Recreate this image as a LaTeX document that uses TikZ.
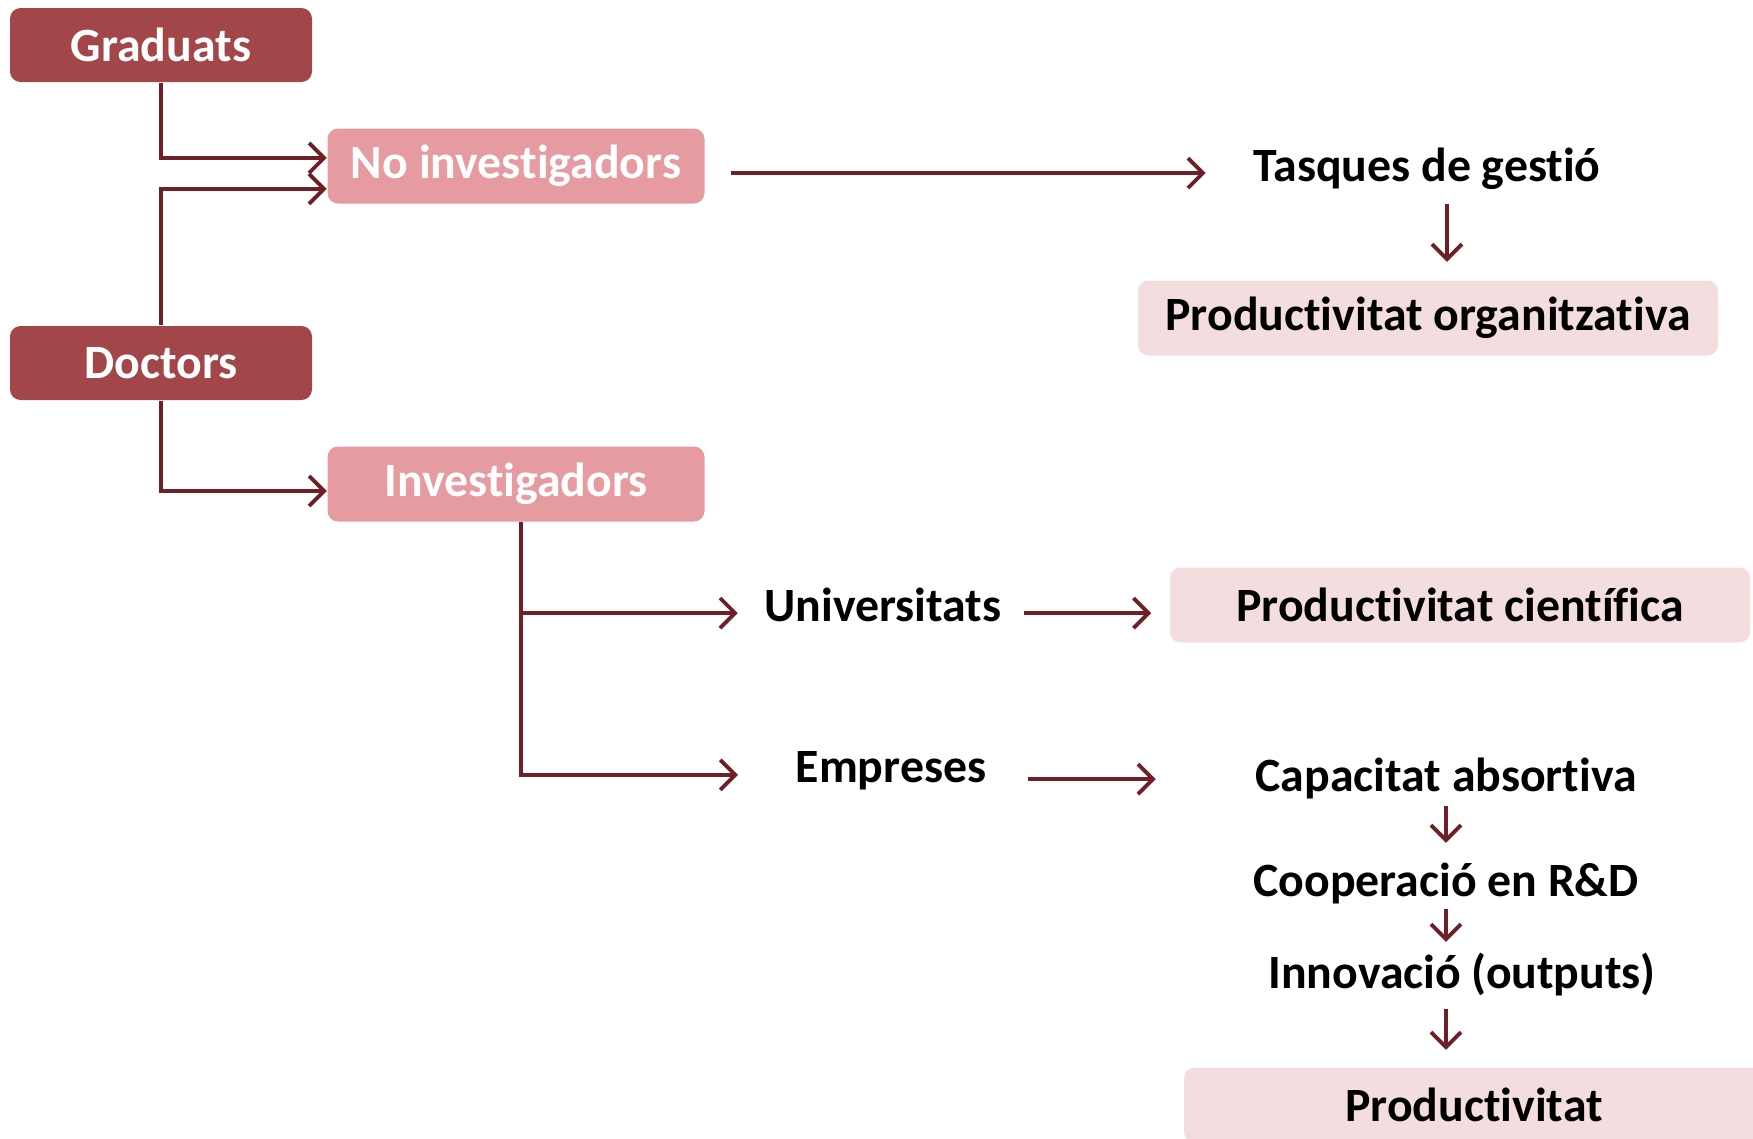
\documentclass[tikz,border=0pt]{standalone}
\usepackage{fontspec}
\setmainfont{Carlito}[Ligatures={NoCommon,NoRequired,NoContextual,NoRare},
  RawFeature={-liga;-clig;-calt;-dlig}]
\usetikzlibrary{arrows.meta}

\definecolor{granat}{RGB}{163,70,74}
\definecolor{rosa}{RGB}{230,155,160}
\definecolor{rosaclar}{RGB}{244,221,223}
\definecolor{fletxacol}{RGB}{110,32,38}

\tikzset{
  fosc/.style={fill=granat, text=white, rounded corners=3pt, inner sep=0pt,
    minimum width=30.2mm, minimum height=7.4mm},
  mitja/.style={fill=rosa, text=white, rounded corners=3pt, inner sep=0pt,
    minimum width=37.7mm, minimum height=7.5mm},
  clar/.style={fill=rosaclar, text=black, rounded corners=3pt, inner sep=0pt,
    minimum width=58mm, minimum height=7.5mm},
  txt/.style={text=black, inner sep=0pt},
  fletxa/.style={draw=fletxacol, line width=1.1pt,
    -{Straight Barb[length=1.5mm, width=3mm, line width=1.1pt]}}
}

\begin{document}
\begin{tikzpicture}[x=0.1mm, y=-0.1mm, font=\fontsize{13.6}{16}\selectfont\bfseries]
	\useasboundingbox (0,0) rectangle (1753,1138);

		% left column
		\node[fosc] (grad) at (161,45) {Graduats};
		\node[fosc] (doc) at (161,363) {Doctors};
		\node[mitja] (noinv) at (516,166) {No investigadors};
		\node[mitja] (inv) at (516,484) {Investigadors};

		% outcomes
		\node[txt] (tasq) at (1427,169) {Tasques de gestió};
		\node[clar] (porg) at (1428,318) {Productivitat organitzativa};
		\node[txt] (univ) at (883,605) {Universitats};
		\node[clar] (pcie) at (1460,605) {Productivitat científica};
		\node[txt] (emp) at (891,771) {Empreses};
		\node[txt] (capa) at (1446,778) {Capacitat absortiva};
		\node[txt] (coop) at (1446,883) {Cooperació en R\&D};
		\node[txt] (innov) at (1462,974) {Innovació (outputs)};
		\node[clar] (prod) at (1474,1105) {Productivitat};

		%% Arrows %%
		\draw[fletxa] (grad.south) |- ([yshift=2.3pt]noinv.west);
		\draw[fletxa] (doc.north) |- ([yshift=-6.5pt]noinv.west);
		\draw[fletxa] (doc.south) |- ([yshift=-2pt]inv.west);
		\draw[fletxa, shorten <=2.6mm, shorten >=4.7mm]
			([yshift=-2pt]noinv.east) -- ([yshift=-2pt]noinv.east -| tasq.west);
		\draw[fletxa, shorten <=1.3mm, shorten >=1.8mm]
			([xshift=5.7pt]tasq.south) -- ([xshift=5.7pt]tasq.south |- porg.north);

		% researchers
		\draw[fletxa, shorten >=5.7mm]
			([xshift=1.5pt]inv.south) |- ([yshift=-1.1pt]emp.west);
		\draw[fletxa, shorten >=2.6mm]
			([xshift=1.5pt, yshift=-2.3pt]inv.south |- univ.west) -- ([yshift=-2.3pt]univ.west);
		\draw[fletxa, shorten <=2.2mm, shorten >=1.8mm]
			([yshift=-2.3pt]univ.east) -- ([yshift=-2.3pt]univ.east -| pcie.west);
		\draw[fletxa, shorten <=4.1mm, shorten >=9.9mm]
			([yshift=-2.3pt]emp.east) -- ([yshift=-2.3pt]emp.east -| capa.west);

		% firms chain
		\draw[fletxa, shorten <=0.7mm, shorten >=1.9mm] (capa.south) -- (capa.south |- coop.north);
		\draw[fletxa, shorten <=0.5mm, shorten >=1mm] (coop.south) -- (coop.south |- innov.north);
		\draw[fletxa, shorten <=1.3mm, shorten >=1.7mm] (innov.south -| capa.south) -- (capa.south |- prod.north);

\end{tikzpicture}
\end{document}
